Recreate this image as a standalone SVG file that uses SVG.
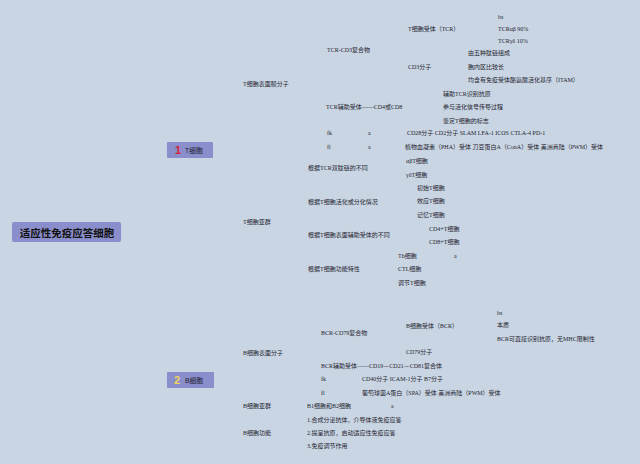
<svg xmlns="http://www.w3.org/2000/svg" width="640" height="464" viewBox="0 0 640 464">
<style>
.t{font-family:"Liberation Serif","Noto Sans CJK SC",serif;font-size:6px;fill:#1f2430;dominant-baseline:central}
.box{fill:#8a8ecb}
.root{font-family:"Noto Sans CJK SC",sans-serif;font-size:10.5px;font-weight:bold;fill:#111;dominant-baseline:central;text-anchor:middle}
.num{font-family:"Liberation Sans",sans-serif;font-size:11px;font-weight:bold;dominant-baseline:central}
.lbl{font-family:"Liberation Sans","Noto Sans CJK SC",sans-serif;font-size:6.8px;fill:#1d2030;dominant-baseline:central}
</style>
<rect width="640" height="464" fill="#c9d5e3"/>
<g id="connectors"/>
<g id="root"><rect class="box" x="12" y="222" width="109" height="20" rx="2"/><text class="root" x="67" y="232">适应性免疫应答细胞</text></g>
<g id="tcell"><rect class="box" x="167" y="142" width="46" height="16" rx="1"/><text class="num" x="175" y="150" fill="#d91f3a">1</text><text class="lbl" x="185" y="150">T细胞</text></g>
<g id="bcell"><rect class="box" x="167" y="372" width="47" height="16" rx="1"/><text class="num" x="174" y="380" fill="#f2d45a">2</text><text class="lbl" x="185" y="380">B细胞</text></g>
<g id="t-membrane"><text class="t" x="243" y="84">T细胞表面膜分子</text></g>
<g id="tcr-cd3"><text class="t" x="327" y="50">TCR-CD3复合物</text></g>
<g id="tcr"><text class="t" x="408" y="29">T细胞受体（TCR）</text></g>
<g id="tcr-bs"><text class="t" x="498" y="17">bs</text></g>
<g id="tcr-ab"><text class="t" x="498" y="29">TCRαβ 90%</text></g>
<g id="tcr-gd"><text class="t" x="498" y="41">TCRγδ 10%</text></g>
<g id="cd3"><text class="t" x="408" y="67">CD3分子</text></g>
<g id="cd3-1"><text class="t" x="468" y="53">由五种肽链组成</text></g>
<g id="cd3-2"><text class="t" x="468" y="67">胞内区比较长</text></g>
<g id="cd3-3"><text class="t" x="468" y="80">均含有免疫受体酪氨酸活化基序（ITAM）</text></g>
<g id="coreceptor"><text class="t" x="326" y="107">TCR辅助受体——CD4或CD8</text></g>
<g id="co-1"><text class="t" x="443" y="94">辅助TCR识别抗原</text></g>
<g id="co-2"><text class="t" x="443" y="107">参与活化信号传导过程</text></g>
<g id="co-3"><text class="t" x="443" y="121">鉴定T细胞的标志</text></g>
<g id="t-fk"><text class="t" x="327" y="133">fk</text><text class="t" x="368" y="133">a</text><text class="t" x="407" y="133">CD28分子 CD2分子 SLAM LFA-1 ICOS CTLA-4 PD-1</text></g>
<g id="t-fl"><text class="t" x="327" y="147">fl</text><text class="t" x="368" y="147">a</text><text class="t" x="405" y="147">植物血凝素（PHA）受体 刀豆蛋白A（ConA）受体 美洲商陆（PWM）受体</text></g>
<g id="t-subsets"><text class="t" x="243" y="222">T细胞亚群</text></g>
<g id="by-tcr"><text class="t" x="308" y="168">根据TCR双肽链的不同</text></g>
<g id="ab-t"><text class="t" x="406" y="161">αβT细胞</text></g>
<g id="gd-t"><text class="t" x="406" y="175">γδT细胞</text></g>
<g id="by-act"><text class="t" x="308" y="202">根据T细胞活化或分化情况</text></g>
<g id="naive"><text class="t" x="417" y="188">初始T细胞</text></g>
<g id="effector"><text class="t" x="417" y="201">效应T细胞</text></g>
<g id="memory"><text class="t" x="417" y="215">记忆T细胞</text></g>
<g id="by-co"><text class="t" x="308" y="235">根据T细胞表面辅助受体的不同</text></g>
<g id="cd4t"><text class="t" x="429" y="229">CD4+T细胞</text></g>
<g id="cd8t"><text class="t" x="429" y="242">CD8+T细胞</text></g>
<g id="by-func"><text class="t" x="308" y="269">根据T细胞功能特性</text></g>
<g id="th"><text class="t" x="398" y="256">Th细胞</text><text class="t" x="454" y="256">a</text></g>
<g id="ctl"><text class="t" x="398" y="269">CTL细胞</text></g>
<g id="treg"><text class="t" x="398" y="283">调节T细胞</text></g>
<g id="b-membrane"><text class="t" x="243" y="353">B细胞表面分子</text></g>
<g id="bcr-cd79"><text class="t" x="321" y="333">BCR-CD79复合物</text></g>
<g id="bcr"><text class="t" x="406" y="326">B细胞受体（BCR）</text></g>
<g id="bcr-bs"><text class="t" x="497" y="313">bs</text></g>
<g id="bcr-nature"><text class="t" x="497" y="325">本质</text></g>
<g id="bcr-direct"><text class="t" x="497" y="339">BCR可直接识别抗原，无MHC限制性</text></g>
<g id="cd79"><text class="t" x="406" y="352">CD79分子</text></g>
<g id="bcr-co"><text class="t" x="321" y="366">BCR辅助受体——CD19－CD21－CD81复合体</text></g>
<g id="b-fk"><text class="t" x="321" y="379">fk</text><text class="t" x="362" y="379">CD40分子 ICAM-1分子 B7分子</text></g>
<g id="b-fl"><text class="t" x="321" y="393">fl</text><text class="t" x="362" y="393">葡萄球菌A蛋白（SPA）受体 美洲商陆（PWM）受体</text></g>
<g id="b-subsets"><text class="t" x="243" y="406">B细胞亚群</text><text class="t" x="307" y="406">B1细胞和B2细胞</text><text class="t" x="391" y="406">a</text></g>
<g id="b-func"><text class="t" x="243" y="433">B细胞功能</text></g>
<g id="bf-1"><text class="t" x="307" y="420">1.合成分泌抗体，介导体液免疫应答</text></g>
<g id="bf-2"><text class="t" x="307" y="433">2.提呈抗原，启动适应性免疫应答</text></g>
<g id="bf-3"><text class="t" x="307" y="446">3.免疫调节作用</text></g>
</svg>
